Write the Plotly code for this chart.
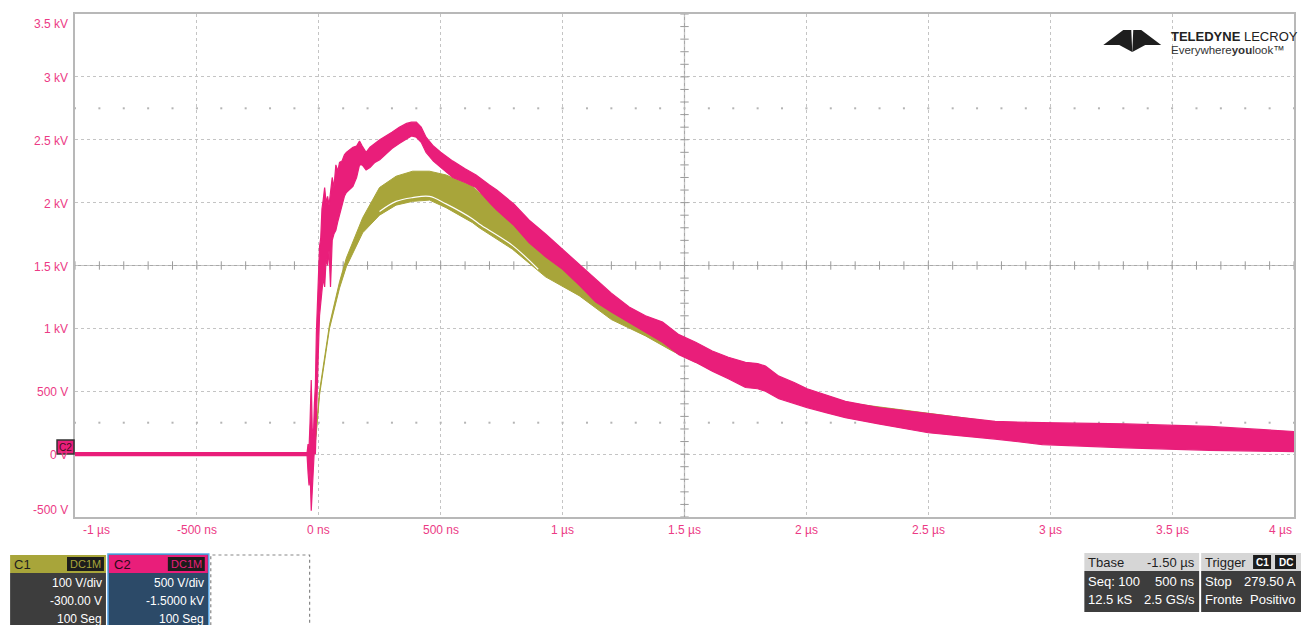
import numpy as np
import plotly.graph_objects as go

# ---------------- data (time in µs, voltage in kV) -------------
pink_t = [-1.0, -0.048, -0.044, -0.040, -0.036, -0.031, -0.027, -0.022, -0.018, -0.014,
          -0.010, -0.006, -0.002, 0.003, 0.008, 0.013, 0.018, 0.024, 0.030, 0.036,
          0.042, 0.048, 0.055, 0.062, 0.070, 0.078, 0.085, 0.095, 0.105, 0.113,
          0.125, 0.140, 0.155, 0.167, 0.178, 0.194, 0.210, 0.230, 0.250, 0.300,
          0.330, 0.360, 0.380, 0.400, 0.420, 0.440, 0.470, 0.500, 0.550, 0.600,
          0.645, 0.700, 0.730, 0.800, 0.863, 0.930, 1.000, 1.070, 1.136, 1.200,
          1.273, 1.340, 1.410, 1.477, 1.546, 1.614, 1.680, 1.750, 1.800, 1.832,
          1.887, 1.950, 2.003, 2.080, 2.160, 2.296, 2.500, 2.637, 2.774, 2.968,
          3.310, 3.654, 4.000]
pink_hi = [0.012, 0.012, 0.08, 0.05, 0.25, 0.59, 0.20, 0.15, 0.40, 0.55,
           0.96, 1.20, 1.45, 1.65, 1.72, 1.95, 2.02, 2.12, 2.00, 2.05,
           1.98, 2.10, 2.20, 2.12, 2.30, 2.25, 2.32, 2.33, 2.38, 2.40,
           2.42, 2.44, 2.45, 2.49, 2.45, 2.40, 2.44, 2.47, 2.50, 2.56,
           2.60, 2.63, 2.64, 2.64, 2.60, 2.52, 2.45, 2.40, 2.33, 2.27,
           2.22, 2.14, 2.10, 1.99, 1.86, 1.75, 1.63, 1.51, 1.39, 1.28,
           1.17, 1.10, 1.05, 0.95, 0.89, 0.82, 0.77, 0.73, 0.72, 0.70,
           0.62, 0.57, 0.52, 0.47, 0.42, 0.37, 0.32, 0.29, 0.26, 0.25,
           0.24, 0.22, 0.18]
pink_lo = [-0.012, -0.012, -0.15, -0.25, -0.12, -0.45, -0.30, -0.10, 0.05, 0.00,
           0.35, 0.55, 0.80, 1.10, 1.20, 1.25, 1.40, 1.33, 1.55, 1.50,
           1.62, 1.33, 1.70, 1.75, 1.78, 1.85, 1.90, 1.98, 2.05, 2.08,
           2.10, 2.13, 2.20, 2.30, 2.30, 2.26, 2.28, 2.32, 2.34, 2.43,
           2.47, 2.51, 2.53, 2.52, 2.48, 2.40, 2.33, 2.28, 2.20, 2.16,
           2.12, 2.00, 1.94, 1.82, 1.68, 1.57, 1.47, 1.34, 1.21, 1.13,
           1.05, 0.97, 0.89, 0.79, 0.73, 0.66, 0.60, 0.53, 0.52, 0.50,
           0.44, 0.40, 0.37, 0.33, 0.29, 0.24, 0.17, 0.145, 0.12, 0.076,
           0.05, 0.03, 0.02]

olive_t = [-1.0, -0.020, -0.010, 0.003, 0.044, 0.085, 0.113, 0.180, 0.249, 0.317,
           0.385, 0.454, 0.522, 0.631, 0.658, 0.794, 0.930, 1.068, 1.200, 1.340,
           1.450, 1.600, 2.000, 3.000, 4.000]
olive_hi = [0.006, 0.010, 0.20, 0.50, 1.03, 1.37, 1.56, 1.88, 2.12, 2.21,
            2.25, 2.25, 2.22, 2.13, 2.08, 1.86, 1.62, 1.42, 1.20, 1.02,
            0.90, 0.74, 0.45, 0.20, 0.10]
olive_lo = [-0.006, -0.010, 0.17, 0.47, 1.00, 1.32, 1.49, 1.76, 1.90, 1.98,
            2.01, 2.02, 1.96, 1.84, 1.80, 1.63, 1.41, 1.26, 1.07, 0.94,
            0.82, 0.68, 0.38, 0.10, 0.04]

gap_t = [0.249, 0.317, 0.385, 0.454, 0.522, 0.631, 0.658, 0.794, 0.900]
gap_v = [1.93, 2.01, 2.04, 2.05, 1.99, 1.87, 1.83, 1.66, 1.47]

x_tick_vals = [-1, -0.5, 0, 0.5, 1, 1.5, 2, 2.5, 3, 3.5, 4]
x_tick_text = ["-1 µs", "-500 ns", "0 ns", "500 ns", "1 µs", "1.5 µs",
               "2 µs", "2.5 µs", "3 µs", "3.5 µs", "4 µs"]
y_tick_vals = [3.5, 3, 2.5, 2, 1.5, 1, 0.5, 0, -0.5]
y_tick_text = ["3.5 kV", "3 kV", "2.5 kV", "2 kV", "1.5 kV", "1 kV",
               "500 V", "0 V", "-500 V"]

# ---------------- styling -------------
PINK = "#e91e7a"
PINK_TXT = "#ec3a85"
OLIVE = "#a8a53a"
GRID = "#c4c4c4"
FONT = "Liberation Sans Narrow, Liberation Sans, Arial, sans-serif"

W, H = 1301, 625
PL, PR, PT, PB = 75, 1296, 14, 517


def px(x):
    return (x - PL) / (PR - PL)


def py(y):
    return (PB - y) / (PB - PT)


fig = go.Figure()

# centre-axis tick marks and dotted rows (scope graticule)
minor_x = np.round(np.arange(-1, 4.001, 0.1), 3)
minor_y = np.round(np.arange(-0.5, 3.501, 0.1), 3)
fig.add_trace(go.Scatter(x=minor_x, y=[1.5] * len(minor_x), mode="markers",
                         marker=dict(symbol="line-ns", size=6,
                                     line=dict(width=1, color="#9a9a9a")),
                         hoverinfo="skip", showlegend=False))
fig.add_trace(go.Scatter(x=[1.5] * len(minor_y), y=minor_y, mode="markers",
                         marker=dict(symbol="line-ew", size=6,
                                     line=dict(width=1, color="#9a9a9a")),
                         hoverinfo="skip", showlegend=False))
for yr in (2.75, 0.25):
    fig.add_trace(go.Scatter(x=minor_x, y=[yr] * len(minor_x), mode="markers",
                             marker=dict(symbol="square", size=2, color="#b4b4b4"),
                             hoverinfo="skip", showlegend=False))

# C1 band (olive)
fig.add_trace(go.Scatter(x=olive_t, y=olive_hi, mode="lines",
                         line=dict(color=OLIVE, width=1), hoverinfo="skip",
                         showlegend=False))
fig.add_trace(go.Scatter(x=olive_t, y=olive_lo, mode="lines", fill="tonexty",
                         fillcolor=OLIVE, line=dict(color=OLIVE, width=1),
                         hoverinfo="skip", showlegend=False))
fig.add_trace(go.Scatter(x=gap_t, y=gap_v, mode="lines",
                         line=dict(color="white", width=1.2, shape="spline"),
                         hoverinfo="skip", showlegend=False))

# C2 band (pink)
fig.add_trace(go.Scatter(x=pink_t, y=pink_hi, mode="lines",
                         line=dict(color=PINK, width=1.2), hoverinfo="skip",
                         showlegend=False))
fig.add_trace(go.Scatter(x=pink_t, y=pink_lo, mode="lines", fill="tonexty",
                         fillcolor=PINK, line=dict(color=PINK, width=1.2),
                         hoverinfo="skip", showlegend=False))

shapes = []
annotations = []

# centre cross lines
shapes.append(dict(type="line", xref="x", yref="y", x0=-1, x1=4, y0=1.5, y1=1.5,
                   line=dict(color="#a8a8a8", width=1.2), layer="below"))
shapes.append(dict(type="line", xref="x", yref="y", x0=1.5, x1=1.5, y0=-0.5, y1=3.5,
                   line=dict(color="#a8a8a8", width=1.2), layer="below"))

# axis labels
for i, (v, t) in enumerate(zip(x_tick_vals, x_tick_text)):
    anchor = "left" if i == 0 else ("right" if i == len(x_tick_vals) - 1 else "center")
    xx = v if 0 < i < len(x_tick_vals) - 1 else (-0.975 if i == 0 else 4.0)
    annotations.append(dict(x=xx, y=py(530), xref="x", yref="paper", text=t,
                            showarrow=False, xanchor=anchor, yanchor="middle",
                            font=dict(family=FONT, size=12, color=PINK_TXT)))
for i, (v, t) in enumerate(zip(y_tick_vals, y_tick_text)):
    if i == 0:
        yy = py(24)
    elif i == len(y_tick_vals) - 1:
        yy = py(510)
    else:
        yy = py(PB - (v + 0.5) / 4.0 * (PB - PT) + 1)
    annotations.append(dict(x=px(70), y=yy, xref="paper", yref="paper", text=t,
                            showarrow=False, xanchor="right", yanchor="middle",
                            font=dict(family=FONT, size=12, color=PINK_TXT)))


def rect(x0, y0, x1, y1, fill, line=None, dash=None, lw=1):
    d = dict(type="rect", xref="paper", yref="paper", x0=px(x0), x1=px(x1),
             y0=py(y1), y1=py(y0), fillcolor=fill, layer="above",
             line=dict(width=0 if line is None else lw, color=line or fill))
    if dash:
        d["line"]["dash"] = dash
    shapes.append(d)


def text(x, y, t, color, size=12, anchor="left", bold=False):
    annotations.append(dict(x=px(x), y=py(y), xref="paper", yref="paper",
                            text=("<b>%s</b>" % t) if bold else t, showarrow=False,
                            xanchor=anchor, yanchor="middle",
                            font=dict(family=FONT, size=size, color=color)))


# C2 ground marker at left edge
rect(57, 440, 74, 454, PINK, line="#333333", lw=1.5)
text(65.5, 447, "C2", "#3a1020", size=10, anchor="center")

# trigger position marker & trigger level marker
fig.add_trace(go.Scatter(x=[px(319.5)], y=[py(524)], xaxis="x2", yaxis="y2",
                         mode="markers", marker=dict(symbol="triangle-up", size=9,
                                                     color=OLIVE),
                         hoverinfo="skip", showlegend=False, cliponaxis=False))
fig.add_trace(go.Scatter(x=[px(1299)], y=[py(279)], xaxis="x2", yaxis="y2",
                         mode="markers", marker=dict(symbol="triangle-left", size=6,
                                                     color=OLIVE),
                         hoverinfo="skip", showlegend=False, cliponaxis=False))

# C1 descriptor box
rect(10, 555, 106, 573, OLIVE)
rect(10, 573, 106, 630, "#3d3d3d")
text(12, 564, "C1", "#1e1e1e", size=13)
rect(67, 557, 104, 571, "#1c1c1c")
text(85.5, 564, "DC1M", OLIVE, size=11, anchor="center")
text(104, 583, "100 V/div", "white", anchor="right")
text(104, 601, "-300.00 V", "white", anchor="right")
text(104, 619, "100 Seg", "white", anchor="right")

# C2 descriptor box
rect(108, 554, 209, 630, "#2c4a68", line="#5aa8e8", lw=1.5)
rect(109, 555, 208, 573, PINK)
text(112, 564, "C2", "#2a0a18", size=13)
rect(168, 557, 205, 571, "#1c1c1c")
text(186.5, 564, "DC1M", PINK, size=11, anchor="center")
text(206, 583, "500 V/div", "white", anchor="right")
text(206, 601, "-1.5000 kV", "white", anchor="right")
text(206, 619, "100 Seg", "white", anchor="right")

# empty dotted slot
rect(211, 555, 310, 632, "rgba(0,0,0,0)", line="#888888", dash="dot", lw=1.2)

# Timebase box
rect(1086, 553, 1201, 571, "#d6d6d6")
rect(1086, 571, 1201, 612, "#3d3d3d")
text(1088, 562, "Tbase", "#1e1e1e", size=13)
text(1199, 562, "-1.50 µs", "#1e1e1e", size=13, anchor="right")
text(1088, 581, "Seq: 100", "white", size=13)
text(1199, 581, "500 ns", "white", size=13, anchor="right")
text(1088, 599, "12.5 kS", "white", size=13)
text(1199, 599, "2.5 GS/s", "white", size=13, anchor="right")

# Trigger box
rect(1203, 553, 1303, 571, "#d6d6d6")
rect(1203, 571, 1303, 612, "#3d3d3d")
text(1205, 562, "Trigger", "#1e1e1e", size=13)
rect(1255, 555, 1273, 569, "#1c1c1c")
text(1264, 562, "C1", "white", size=10, anchor="center", bold=True)
rect(1277, 555, 1298, 569, "#1c1c1c")
text(1287.5, 562, "DC", "white", size=10, anchor="center", bold=True)
text(1205, 581, "Stop", "white", size=13)
text(1300, 581, "279.50 A", "white", size=13, anchor="right")
text(1205, 599, "Fronte", "white", size=13)
text(1300, 599, "Positivo", "white", size=13, anchor="right")


# Teledyne LeCroy logo
def poly(pts, color="#1e1e1e"):
    path = "M " + " L ".join("%f,%f" % (px(a), py(b)) for a, b in pts) + " Z"
    shapes.append(dict(type="path", xref="paper", yref="paper", path=path,
                       fillcolor=color, line=dict(width=0), layer="above"))


poly([(1105, 45), (1125, 30), (1133, 30), (1134, 52), (1121, 45)])
poly([(1163, 45), (1143, 30), (1135, 30), (1134, 52), (1147, 45)])
text(1171, 36, "<b>TELEDYNE</b> LECROY", "#222222", size=13)
text(1171, 50, "Everywhere<b>you</b>look™", "#333333", size=11.5)

fig.update_layout(
    width=W, height=H,
    margin=dict(l=PL, r=W - PR, t=PT, b=H - PB, pad=0),
    paper_bgcolor="white", plot_bgcolor="white",
    showlegend=False,
    xaxis=dict(range=[-1, 4], dtick=0.5, tick0=-1, showgrid=True, gridcolor=GRID,
               griddash="dot", gridwidth=1, zeroline=False, showticklabels=False,
               ticks="", showline=True, mirror=True, linecolor="#b8b8b8",
               linewidth=2, fixedrange=True),
    yaxis=dict(range=[-0.5, 3.5], dtick=0.5, tick0=-0.5, showgrid=True,
               gridcolor=GRID, griddash="dot", gridwidth=1, zeroline=False,
               showticklabels=False, ticks="", showline=True, mirror=True,
               linecolor="#b8b8b8", linewidth=2, fixedrange=True),
    xaxis2=dict(range=[0, 1], overlaying="x", visible=False, fixedrange=True),
    yaxis2=dict(range=[0, 1], overlaying="y", visible=False, fixedrange=True),
    shapes=shapes,
    annotations=annotations,
)

fig.write_html("out.html",
               config={"displayModeBar": False},
               post_script="document.body.style.margin='0';"
                           "document.body.style.padding='0';"
                           "document.body.style.overflow='hidden';")
